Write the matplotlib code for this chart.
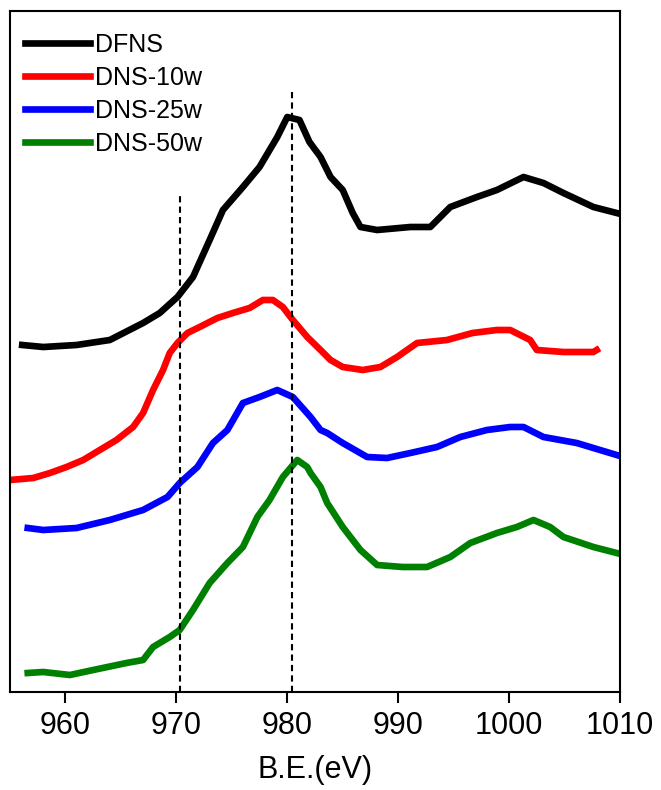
import numpy as np
import matplotlib
matplotlib.use("Agg")
from matplotlib import pyplot as plt

# binding energy (eV) and intensity (a.u., stacked offsets) for each sample
be_dfns = [956.1, 958.0, 961.0, 964.0, 967.0, 968.5, 970.1, 971.5, 973.0, 974.2,
           976.0, 977.5, 979.1, 980.0, 981.1, 982.0, 983.0, 983.9, 985.0, 985.9,
           986.6, 988.1, 991.1, 992.9, 994.7, 997.1, 998.9, 1001.3, 1003.1, 1004.9,
           1007.6, 1009.7]
int_dfns = [347, 345, 347, 352, 369, 379, 395, 415, 452, 482,
            505, 525, 555, 575, 572, 550, 535, 515, 502, 479,
            465, 462, 465, 465, 485, 495, 502, 515, 509, 499,
            485, 479]

be_10w = [955.0, 957.1, 958.6, 960.1, 961.6, 963.1, 964.6, 966.1, 967.0, 967.9,
          968.8, 969.4, 970.1, 971.0, 972.1, 973.7, 975.1, 976.6, 977.8, 978.7,
          979.6, 980.5, 981.8, 983.0, 983.9, 985.0, 986.8, 988.4, 989.9, 991.7,
          994.4, 996.7, 998.9, 1000.1, 1001.9, 1002.5, 1004.9, 1007.6, 1007.9]
int_10w = [212, 214, 219, 225, 232, 242, 252, 265, 279, 302,
           322, 339, 349, 359, 365, 374, 379, 384, 392, 392,
           385, 372, 355, 342, 332, 325, 322, 325, 335, 349,
           352, 359, 362, 362, 352, 342, 340, 340, 342]

be_25w = [956.6, 958.0, 961.0, 964.0, 967.0, 969.2, 970.3, 971.9, 973.3, 974.6,
          976.0, 977.5, 979.1, 980.5, 982.1, 983.0, 983.6, 985.0, 987.2, 989.0,
          991.1, 993.5, 995.6, 998.0, 1000.1, 1001.3, 1003.1, 1006.1, 1009.7]
int_25w = [164, 162, 164, 172, 182, 195, 209, 225, 249, 262,
           289, 295, 302, 295, 275, 262, 259, 249, 235, 234,
           239, 245, 255, 262, 265, 265, 255, 249, 237]

be_50w = [956.6, 958.0, 960.4, 962.5, 965.5, 967.0, 967.9, 969.4, 970.3, 971.5,
          973.0, 974.6, 976.0, 977.3, 978.4, 979.6, 980.9, 981.8, 982.1, 983.0,
          983.6, 985.0, 986.6, 988.1, 990.4, 992.6, 994.7, 996.5, 998.9, 1000.7,
          1002.2, 1003.7, 1004.9, 1007.6, 1009.7]
int_50w = [19, 20, 17, 22, 29, 32, 45, 55, 62, 82,
           109, 129, 145, 175, 192, 215, 232, 225, 219, 205,
           189, 165, 142, 127, 125, 125, 135, 149, 159, 165,
           172, 165, 155, 145, 139]

labels = ['DFNS', 'DNS-10w', 'DNS-25w', 'DNS-50w']
colors = ['black', 'red', 'blue', 'green']

# reference positions for the dashed guides
guide_be = [970.3, 980.4]
guide_top = [497, 600]

plt.rcParams['font.family'] = ['Liberation Sans', 'DejaVu Sans']

fig = plt.figure(figsize=(6.61, 7.90), dpi=100)
ax = fig.add_axes([10/661, 98/790, 610/661, 681/790])

series = [(be_dfns, int_dfns), (be_10w, int_10w), (be_25w, int_25w), (be_50w, int_50w)]
for (x, y), lab, c in zip(series, labels, colors):
    ax.plot(x, y, color=c, lw=4.8, label=lab, solid_joinstyle='round')

for x0, top in zip(guide_be, guide_top):
    ax.plot([x0, x0], [0, top], color='black', lw=1.5, linestyle=(0, (3, 2)))

ax.set_xlim(955, 1010)
ax.set_ylim(0, 681)
ax.set_xticks(np.arange(960, 1011, 10))
ax.set_yticks([])
ax.tick_params(axis='x', direction='out', length=8, width=1.5, labelsize=22, pad=6)
for s in ax.spines.values():
    s.set_linewidth(1.5)
ax.set_xlabel('B.E.(eV)', fontsize=22, labelpad=10)

ax.legend(loc='upper left', bbox_to_anchor=(0.0, 0.99), frameon=False, fontsize=18,
          handlelength=2.6, handletextpad=0.2, labelspacing=0.36,
          borderaxespad=0.3, borderpad=0.3)

fig.savefig('out.png', dpi=100)
